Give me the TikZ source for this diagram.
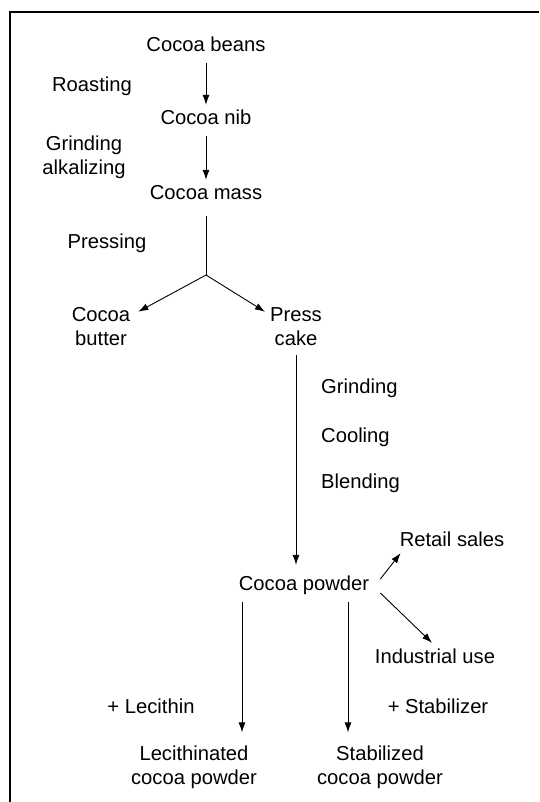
\documentclass[tikz,border=0pt]{standalone}
\usepackage{fontspec}
\setmainfont{Liberation Sans}
\usetikzlibrary{arrows.meta,calc}
\begin{document}
\begin{tikzpicture}[x=1pt,y=-1pt,
  lbl/.style={font=\fontsize{20.2}{24}\selectfont, inner sep=0pt,
    text height=14pt, text depth=4pt},
  lbltwo/.style={font=\fontsize{20.2}{24}\selectfont, inner sep=0pt, align=center},
  flow/.style={line width=0.9pt, -{Latex[length=10pt,width=7pt]}},
  plain/.style={line width=0.9pt}]
\useasboundingbox (0,0) rectangle (539,802);
% open frame: left and top edges only
\draw[line width=2pt] (10,802) -- (10,12) -- (539,12);

% main chain
\node[lbl] (beans) at (206,47) {Cocoa beans};
\node[lbl] (nib) at (206,120) {Cocoa nib};
\node[lbl] (mass) at (206,195) {Cocoa mass};
\node[lbl] (roast) at (92,87) {Roasting};
\node[lbltwo] (alk) at (84,157) {Grinding\\alkalizing};
\node[lbl] (pressing) at (107,243) {Pressing};
\node[lbltwo] (butter) at (101,327) {Cocoa\\butter};
\node[lbltwo] (cake) at (296,327) {Press\\cake};
\node[lbl, anchor=west] (grind) at (321,388) {Grinding};
\node[lbl, anchor=west] (cool) at (321,437) {Cooling};
\node[lbl, anchor=west] (blend) at (321,483) {Blending};
\node[lbl] (powder) at (304,585) {Cocoa powder};
\node[lbl] (retail) at (452,541) {Retail sales};
\node[lbl] (indus) at (435,658) {Industrial use};
\node[lbl] (lecith) at (151,708) {+ Lecithin};
\node[lbl] (stabil) at (438,708) {+ Stabilizer};
\node[lbltwo] (lecpow) at (194,767) {Lecithinated\\cocoa powder};
\node[lbltwo] (stabpow) at (380,767) {Stabilized\\cocoa powder};

\coordinate (split) at (206,275);

% connectors
\draw[flow, shorten <=7pt, shorten >=6pt] (beans.south) -- (nib.north);
\draw[flow, shorten <=7pt, shorten >=6pt] (nib.south) -- (mass.north);
\draw[plain, shorten <=12pt] (mass.south) -- (split);
\draw[flow] (split) -- ($(butter.north east)+(8,4)$);
\draw[flow] (split) -- ($(cake.north west)+(-5,4)$);
\draw[flow, shorten <=9pt, shorten >=11pt] (cake.south) -- (cake.south |- powder.north);
\draw[flow] ($(powder.east)+(11,-6)$) -- ($(retail.south west)+(1,3)$);
\draw[flow] ($(powder.east)+(11,8)$) -- ($(indus.north)+(-3,-6)$);
\draw[flow] ($(powder.south)+(-62,8)$) -- ($(lecpow.north)+(48,-13)$);
\draw[flow] ($(powder.south)+(44,8)$) -- ($(stabpow.north)+(-32,-13)$);
\end{tikzpicture}
\end{document}
